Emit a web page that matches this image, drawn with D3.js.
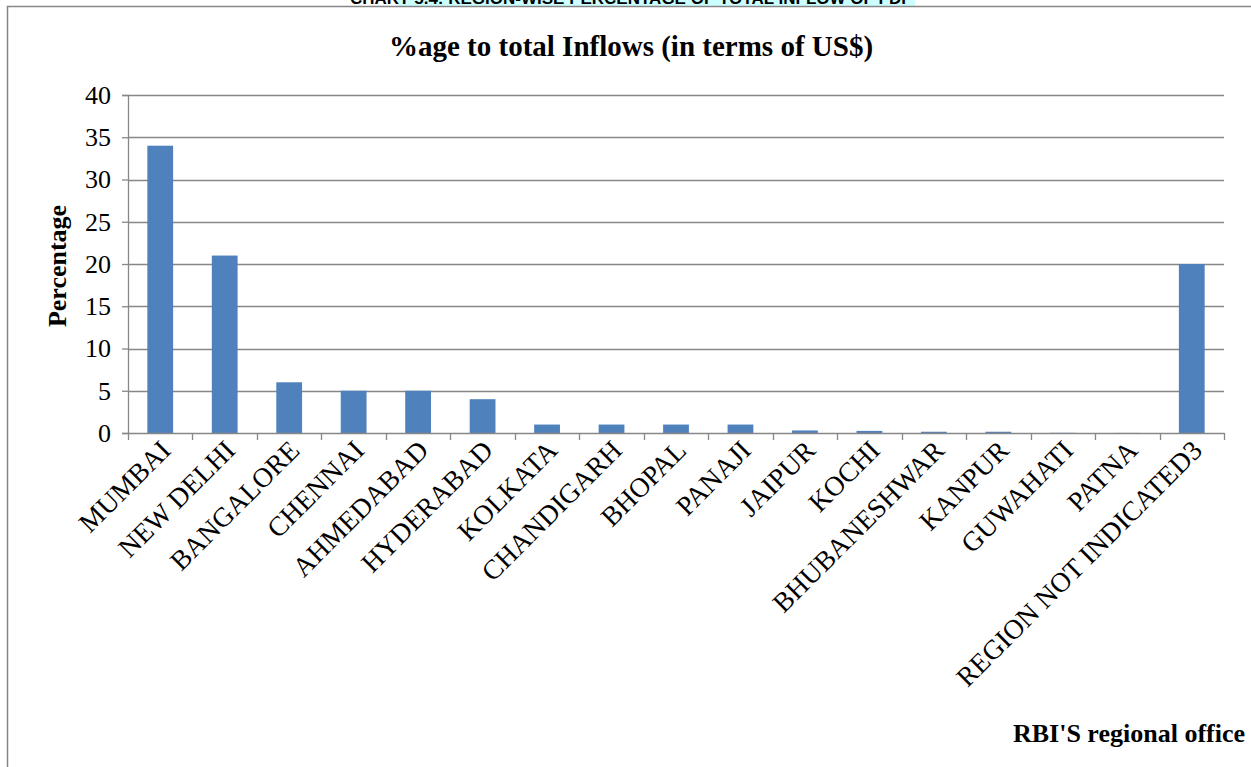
<!DOCTYPE html>
<html>
<head>
<meta charset="utf-8">
<script src="https://cdn.jsdelivr.net/npm/d3@7"></script>
<style>
  html, body { margin: 0; padding: 0; background: #fff; }
  svg { display: block; }
</style>
</head>
<body>
<svg id="chart" width="1251" height="767"></svg>
<script>
const categories = ["MUMBAI", "NEW DELHI", "BANGALORE", "CHENNAI", "AHMEDABAD", "HYDERABAD",
  "KOLKATA", "CHANDIGARH", "BHOPAL", "PANAJI", "JAIPUR", "KOCHI", "BHUBANESHWAR",
  "KANPUR", "GUWAHATI", "PATNA", "REGION NOT INDICATED3"];
const values = [34, 21, 6, 5, 5, 4, 1, 1, 1, 1, 0.3, 0.25, 0.15, 0.15, 0.02, 0.01, 20];
const yTicks = [0, 5, 10, 15, 20, 25, 30, 35, 40];
const chartTitle = "%age to total Inflows (in terms of US$)";
const topCaption = "CHART 5.4: REGION-WISE PERCENTAGE OF TOTAL INFLOW OF FDI";
const yLabel = "Percentage";
const xLabel = "RBI'S regional office";

const svg = d3.select("#chart");
const serif = "'Liberation Serif', 'Times New Roman', serif";

// top cut caption
svg.append("rect").attr("x", 397).attr("y", 0).attr("width", 518).attr("height", 6).attr("fill", "#ccffff");
svg.append("text").attr("x", 628).attr("y", 4).attr("text-anchor", "middle")
  .attr("font-family", "'Liberation Sans', Arial, sans-serif").attr("font-weight", "bold")
  .attr("font-size", 17).attr("fill", "#000").text(topCaption);

// outer frame
svg.append("rect").attr("x", 0).attr("y", 6).attr("width", 1251).attr("height", 761).attr("fill", "#fff");
svg.append("path").attr("d", "M7.5,767 V6.5 H1251").attr("fill", "none").attr("stroke", "#878787").attr("stroke-width", 1.5);

const pLeft = 128, pRight = 1224, pTop = 95, pBottom = 433;
const xb = d3.scaleBand().domain(categories).range([pLeft, pRight]);
const y = d3.scaleLinear().domain([0, 40]).range([pBottom, pTop]);

// gridlines
svg.append("g").selectAll("line").data(yTicks.filter(d => d > 0)).join("line")
  .attr("x1", pLeft).attr("x2", pRight)
  .attr("y1", d => Math.round(y(d)) + 0.5).attr("y2", d => Math.round(y(d)) + 0.5)
  .attr("stroke", "#878787").attr("stroke-width", 1.3);

// bars
svg.append("g").selectAll("rect").data(values).join("rect")
  .attr("x", (d, i) => xb(categories[i]) + xb.bandwidth() * 0.3)
  .attr("width", xb.bandwidth() * 0.4)
  .attr("y", d => y(d))
  .attr("height", d => pBottom - y(d))
  .attr("fill", "#4f81bd");

// y axis
const yAxis = d3.axisLeft(y).tickValues(yTicks).tickSize(6).tickPadding(11);
const gy = svg.append("g").attr("transform", `translate(${pLeft},0)`).call(yAxis);
gy.select(".domain").attr("stroke", "#878787").attr("stroke-width", 1.3);
gy.selectAll(".tick line").attr("stroke", "#878787").attr("stroke-width", 1.3);
gy.selectAll(".tick text").attr("font-family", serif).attr("font-size", 26).attr("fill", "#000");

// x axis
const xAxis = d3.axisBottom(xb).tickSize(0).tickFormat("");
const gx = svg.append("g").attr("transform", `translate(0,${pBottom})`).call(xAxis);
gx.select(".domain").attr("stroke", "#878787").attr("stroke-width", 1.5);
gx.selectAll(".tick").remove();
const bounds = categories.map(c => xb(c)).concat([pRight]);
gx.selectAll("line.tk").data(bounds).join("line").attr("class", "tk")
  .attr("x1", d => Math.round(d) + 0.5).attr("x2", d => Math.round(d) + 0.5)
  .attr("y1", 0).attr("y2", 7).attr("stroke", "#878787").attr("stroke-width", 1.3);

// category labels
svg.append("g").selectAll("text").data(categories).join("text")
  .attr("transform", c => `translate(${xb(c) + xb.bandwidth() / 2 + 12},${pBottom + 19}) rotate(-45)`)
  .attr("text-anchor", "end")
  .attr("font-family", serif).attr("font-size", 27.5).attr("fill", "#000")
  .text(c => c);

// titles
svg.append("text").attr("x", 631).attr("y", 56).attr("text-anchor", "middle")
  .attr("font-family", serif).attr("font-weight", "bold").attr("font-size", 29).text(chartTitle);
svg.append("text").attr("transform", `translate(66,266) rotate(-90)`).attr("text-anchor", "middle")
  .attr("font-family", serif).attr("font-weight", "bold").attr("font-size", 26).text(yLabel);
svg.append("text").attr("x", 1245).attr("y", 742).attr("text-anchor", "end")
  .attr("font-family", serif).attr("font-weight", "bold").attr("font-size", 26).text(xLabel);
</script>
</body>
</html>
